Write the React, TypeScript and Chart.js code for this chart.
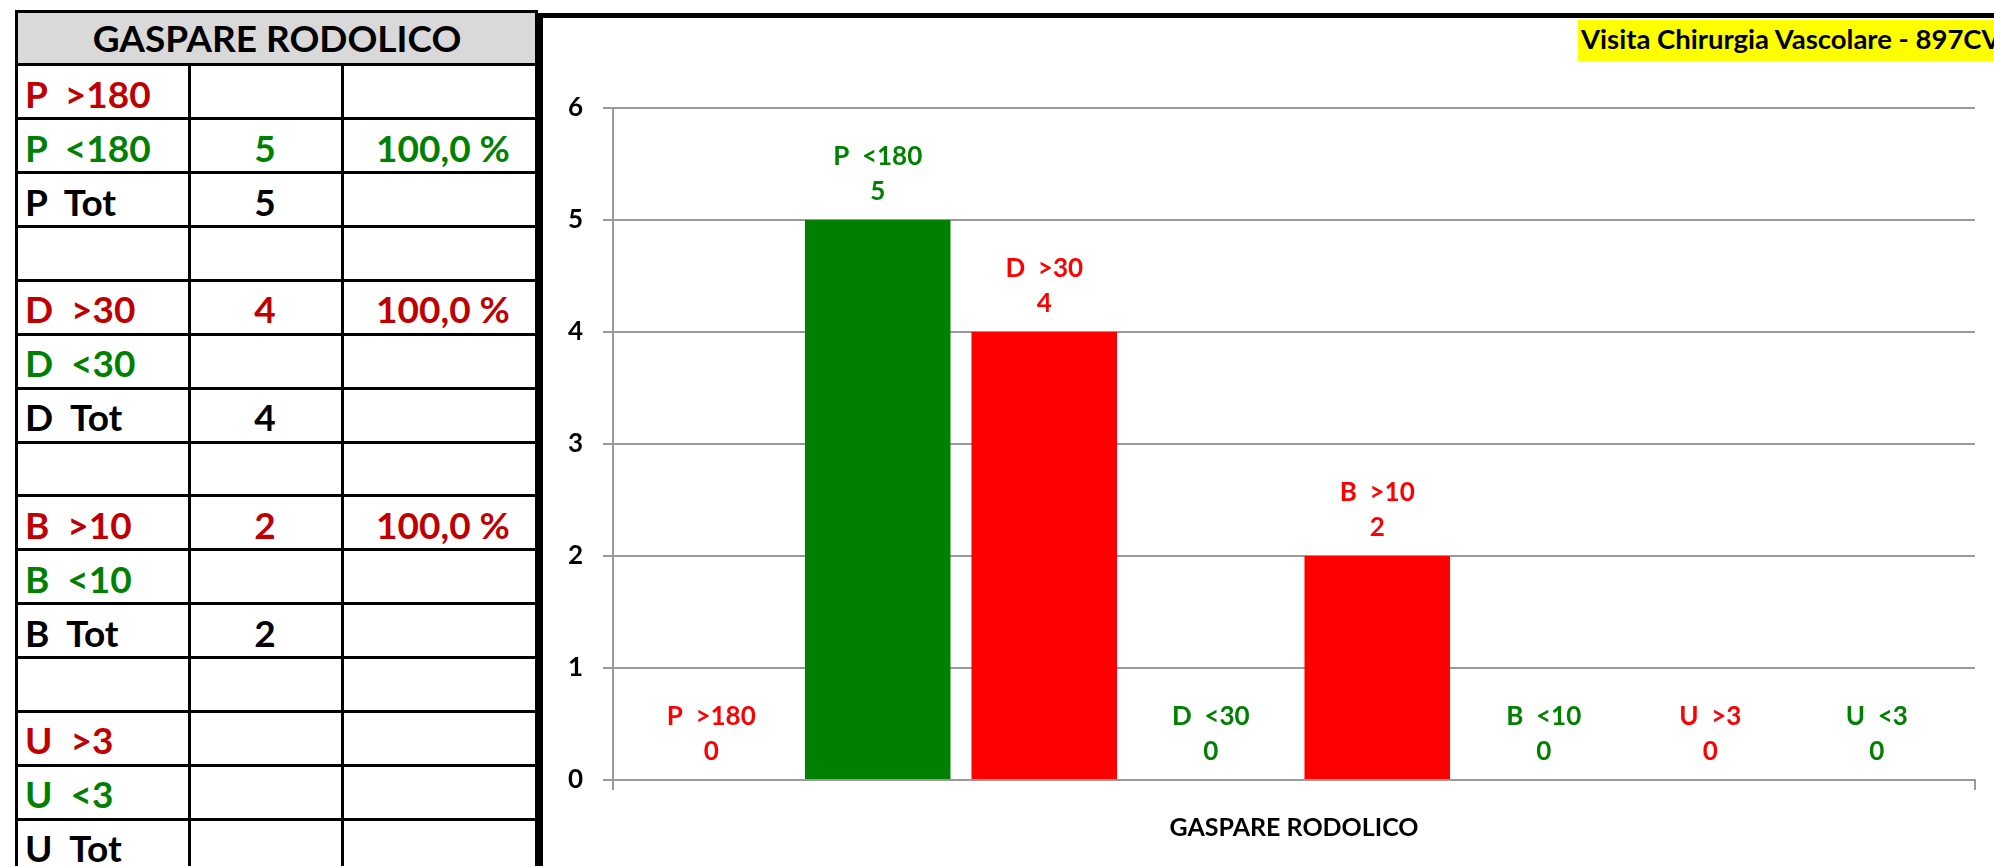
import React, { useEffect, useRef } from 'react';
import { Chart, registerables } from 'chart.js';

Chart.register(...registerables);

// ---------- data ----------
const categories = ['GASPARE RODOLICO'];
const seriesNames = ['P  >180', 'P  <180', 'D  >30', 'D  <30', 'B  >10', 'B  <10', 'U  >3', 'U  <3'];
const seriesValues = [0, 5, 4, 0, 2, 0, 0, 0];
const yMax = 6;
const yStep = 1;
const chartTitle = 'Visita Chirurgia Vascolare - 897CV';
const tableTitle = 'GASPARE RODOLICO';
const tableLabels = ['P  >180', 'P  <180', 'P  Tot', '', 'D  >30', 'D  <30', 'D  Tot', '', 'B  >10', 'B  <10', 'B  Tot', '', 'U  >3', 'U  <3', 'U  Tot'];
const tableCounts = ['', '5', '5', '', '4', '', '4', '', '2', '', '2', '', '', '', ''];
const tablePercents = ['', '100,0 %', '', '', '100,0 %', '', '', '', '100,0 %', '', '', '', '', '', ''];

// ---------- styles ----------
const FONT = "Lato, 'Open Sans', sans-serif";
const RED = '#FF0000';
const GREEN = '#008000';
const DARKRED = '#C00000';
const BLACK = '#000000';
const GRID = '#9a9a9a';
const seriesColors = [RED, GREEN, RED, GREEN, RED, GREEN, RED, GREEN];
const rowColors = [DARKRED, GREEN, BLACK, BLACK, DARKRED, GREEN, BLACK, BLACK, DARKRED, GREEN, BLACK, BLACK, DARKRED, GREEN, BLACK];

const TABLE_FS = 37;
const HEADER_LINE_Y = 64.5;
const ROW_H = 53.86;
const V_LINES = [15, 188, 341, 535];
const TABLE_RIGHT = 538;

const CANVAS_LEFT = 543;
const CANVAS_TOP = 18;
const CANVAS_W = 1994 - CANVAS_LEFT;
const CANVAS_H = 866 - CANVAS_TOP;

function Txt(props: { x: number; base: number; fs: number; color: string; align: 'left' | 'center'; text: string }) {
  const { x, base, fs, color, align, text } = props;
  const top = base - fs * 0.887;
  const style: React.CSSProperties = {
    position: 'absolute',
    top,
    fontFamily: FONT,
    fontWeight: 700,
    fontSize: fs,
    lineHeight: `${fs}px`,
    color,
    whiteSpace: 'pre',
  };
  if (align === 'center') {
    style.left = x - 200;
    style.width = 400;
    style.textAlign = 'center';
  } else {
    style.left = x;
  }
  return <div style={style}>{text}</div>;
}

const labelPlugin = {
  id: 'barLabels',
  afterDatasetsDraw(chart: any) {
    const ctx = chart.ctx;
    ctx.save();
    ctx.font = `bold 26px ${FONT}`;
    ctx.textAlign = 'center';
    ctx.textBaseline = 'alphabetic';
    chart.data.datasets.forEach((ds: any, i: number) => {
      const bar = chart.getDatasetMeta(i).data[0];
      if (!bar) return;
      ctx.fillStyle = seriesColors[i];
      ctx.fillText(ds.label, bar.x, bar.y - 55);
      ctx.fillText(String(ds.data[0]), bar.x, bar.y - 20);
    });
    ctx.restore();
  },
};

export default function App() {
  const canvasRef = useRef<HTMLCanvasElement | null>(null);

  useEffect(() => {
    if (!canvasRef.current) return;
    const tickFont = { family: FONT, size: 25, weight: 'bold' as const };
    const chart = new Chart(canvasRef.current, {
      type: 'bar',
      data: {
        labels: categories,
        datasets: seriesNames.map((name, i) => ({
          label: name,
          data: [seriesValues[i]],
          backgroundColor: seriesColors[i],
          borderWidth: 0,
          categoryPercentage: 0.978,
          barPercentage: 0.874,
        })),
      },
      options: {
        responsive: false,
        animation: false,
        devicePixelRatio: 1,
        layout: { padding: { top: 90, right: 19, left: 0, bottom: 0 } },
        plugins: {
          legend: { display: false },
          tooltip: { enabled: false },
          title: { display: false },
        },
        scales: {
          x: {
            offset: true,
            grid: { display: true, drawOnChartArea: false, drawTicks: true, tickLength: 10, color: GRID, lineWidth: 2 },
            border: { display: true, color: GRID, width: 2 },
            ticks: { font: tickFont, color: BLACK, padding: 23, maxRotation: 0 },
            afterFit: (scale: any) => { scale.height = 86; },
          },
          y: {
            min: 0,
            max: yMax,
            grid: { color: GRID, lineWidth: 2, tickLength: 10, drawTicks: true },
            border: { display: true, color: GRID, width: 2 },
            ticks: { stepSize: yStep, font: { family: FONT, size: 26, weight: 'bold' as const }, color: BLACK, padding: 20 },
            afterFit: (scale: any) => { scale.width = 70; },
          },
        },
      },
      plugins: [labelPlugin],
    });
    return () => chart.destroy();
  }, []);

  const hLines: number[] = [HEADER_LINE_Y];
  for (let i = 1; i <= tableLabels.length; i++) hLines.push(Math.round(HEADER_LINE_Y + i * ROW_H));

  return (
    <div style={{ position: 'absolute', left: 0, top: 0, width: 1994, height: 866, overflow: 'hidden', background: '#fff' }}>
      {/* table header background */}
      <div style={{ position: 'absolute', left: 18, top: 13, width: 517, height: 50, background: '#D9D9D9' }} />
      {/* table top border */}
      <div style={{ position: 'absolute', left: 15, top: 10, width: TABLE_RIGHT - 15, height: 3, background: BLACK }} />
      {hLines.map((y, i) => (
        <div key={'h' + i} style={{ position: 'absolute', left: 15, top: Math.round(y - 1.5), width: TABLE_RIGHT - 15, height: 3, background: BLACK }} />
      ))}
      {V_LINES.map((x, i) => (
        <div key={'v' + i} style={{ position: 'absolute', left: x, top: i === 0 || i === 3 ? 10 : 63, width: 3, height: 866, background: BLACK }} />
      ))}
      <Txt x={277} base={52} fs={TABLE_FS} color={BLACK} align="center" text={tableTitle} />
      {tableLabels.map((lab, i) => {
        const base = HEADER_LINE_Y + (i + 1) * ROW_H - 10.5;
        return (
          <React.Fragment key={'r' + i}>
            {lab && <Txt x={25} base={base} fs={TABLE_FS} color={rowColors[i]} align="left" text={lab} />}
            {tableCounts[i] && <Txt x={265} base={base} fs={TABLE_FS} color={rowColors[i]} align="center" text={tableCounts[i]} />}
            {tablePercents[i] && <Txt x={443} base={base} fs={TABLE_FS} color={rowColors[i]} align="center" text={tablePercents[i]} />}
          </React.Fragment>
        );
      })}

      {/* chart frame */}
      <div style={{ position: 'absolute', left: 538, top: 13, width: 5, height: 866, background: BLACK }} />
      <div style={{ position: 'absolute', left: 538, top: 13, width: 1994 - 538, height: 5, background: BLACK }} />
      <canvas
        ref={canvasRef}
        width={CANVAS_W}
        height={CANVAS_H}
        style={{ position: 'absolute', left: CANVAS_LEFT, top: CANVAS_TOP, width: CANVAS_W, height: CANVAS_H }}
      />
      {/* title box */}
      <div style={{ position: 'absolute', left: 1578, top: 20, width: 1994 - 1578, height: 41, background: '#FFFF00' }} />
      <div style={{ position: 'absolute', left: 1581, top: 49.5 - 27.5 * 0.887, fontFamily: FONT, fontWeight: 700, fontSize: 27.5, lineHeight: '27.5px', color: BLACK, whiteSpace: 'pre' }}>
        {chartTitle}
      </div>
    </div>
  );
}
